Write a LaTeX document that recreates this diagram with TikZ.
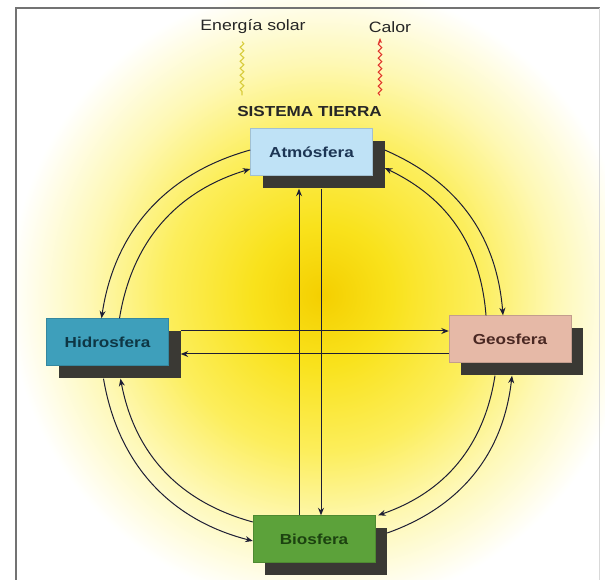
\documentclass[tikz,border=0pt]{standalone}
\usepackage{fontspec}
\setmainfont{Liberation Sans}[FakeStretch=1.18]
\usepackage{xcolor}
\usepackage{tikz}
\usetikzlibrary{positioning, arrows.meta, shadows, decorations.pathmorphing}
\definecolor{atmofill}{HTML}{BFE2F6}
\definecolor{atmotext}{HTML}{1C3554}
\definecolor{hidrofill}{HTML}{3E9FBB}
\definecolor{hidrotext}{HTML}{0E3644}
\definecolor{geofill}{HTML}{E6B9A7}
\definecolor{geotext}{HTML}{4A2823}
\definecolor{biofill}{HTML}{5CA23A}
\definecolor{biotext}{HTML}{1C4210}
\definecolor{shadowgray}{HTML}{3A3934}
\definecolor{linecol}{HTML}{1E1E34}
\definecolor{glowcore}{HTML}{F4CF00}
\definecolor{glowmid}{HTML}{F9E21C}
\definecolor{glowpale}{HTML}{FCEE5C}
\definecolor{glowfaint}{HTML}{FEF8B4}
\definecolor{solarcol}{HTML}{D8CC3C}
\definecolor{calorcol}{HTML}{E0342C}
\pgfdeclareradialshading{sunglow}{\pgfpoint{0bp}{0bp}}{color(0bp)=(glowcore); color(5.3bp)=(glowmid); color(11.9bp)=(glowpale); color(17.6bp)=(glowfaint); color(23.7bp)=(white); color(50bp)=(white)}

\begin{document}
\begin{tikzpicture}[x=1pt, y=1pt,
    box/.style={draw=#1!85!black, line width=0.4pt, fill=#1, minimum width=122pt, minimum height=47pt, inner sep=2pt,
      font=\fontsize{14.5}{16}\selectfont\bfseries,
      drop shadow={shadow xshift=12pt, shadow yshift=-13pt, fill=shadowgray, opacity=1}},
    label/.style={font=\fontsize{15}{17}\selectfont, text=black!85},
    arrow/.style={-{Stealth[length=7.5pt, width=6pt]}, linecol, line width=1pt},
    wavy/.style={decorate, decoration={snake, amplitude=1.8pt, segment length=7pt, post length=3pt}, line width=1.1pt}
  ]
    \useasboundingbox (0,0) rectangle (605,580);
    \clip (0,0) rectangle (605,580);
    \shade[shading=sunglow] (-8,-45) rectangle (652,615);
    % frame
    \draw[black!55, line width=1.6pt] (16,0) -- (16,572) -- (600,572);
    \draw[black!15, line width=1pt] (599,572) -- (599,0);

    % labels on top
    \node[label] (sol)     at (253,553) {Energía solar};
    \node[label] (calor)   at (390,553) {Calor};
    \node[font=\fontsize{14.5}{16}\selectfont\bfseries, text=black!85] (sistema) at (309.5,468) {SISTEMA TIERRA};
    \draw[wavy, solarcol] ([xshift=-11pt,yshift=-4pt]sol.south) -- ([xshift=-11pt,yshift=8pt]sol.south |- sistema.north);
    \draw[wavy, calorcol, -{Stealth[length=5pt, width=4pt]}] ([xshift=-10pt,yshift=8pt]calor.south |- sistema.north) -- ([xshift=-10pt,yshift=-2pt]calor.south);

    % the four spheres
    \node[box=atmofill, text=atmotext]   (atmo)  at (311.5,428) {Atmósfera};
    \node[box=hidrofill, text=hidrotext] (hidro) at (107.5,238) {Hidrosfera};
    \node[box=geofill, text=geotext]     (geo)   at (510,241)   {Geosfera};
    \node[box=biofill, text=biotext]     (bio)   at (314,41)    {Biosfera};

    % arcs round the circle
    \draw[arrow] ([yshift=2pt]atmo.west) to[bend right=33] ([xshift=-6pt]hidro.north);
    \draw[arrow] ([xshift=12pt]hidro.north) to[bend left=32] ([yshift=-17pt]atmo.west);
    \draw[arrow] ([xshift=12pt,yshift=2pt]atmo.east) to[bend left=31] ([xshift=-7pt]geo.north);
    \draw[arrow] ([xshift=-24pt]geo.north) to[bend right=30] ([xshift=12pt,yshift=-16pt]atmo.east);
    \draw[arrow] ([xshift=-4pt,yshift=-13pt]hidro.south) to[bend right=33] ([yshift=-2pt]bio.west);
    \draw[arrow] ([yshift=17pt]bio.west) to[bend left=32] ([xshift=13pt,yshift=-13pt]hidro.south);
    \draw[arrow] ([xshift=-15pt,yshift=-13pt]geo.south) to[bend left=31] ([xshift=3pt]bio.north east);
    \draw[arrow] ([xshift=12pt,yshift=6pt]bio.east) to[bend right=32] ([xshift=2pt,yshift=-13pt]geo.south);

    % straight links
    \draw[arrow] ([xshift=-15pt]bio.north) -- ([xshift=-12.5pt,yshift=-13pt]atmo.south);
    \draw[arrow] ([xshift=9.5pt,yshift=-13pt]atmo.south) -- ([xshift=7pt]bio.north);
    \draw[arrow] ([xshift=12pt,yshift=11pt]hidro.east) -- ([yshift=8pt]geo.west);
    \draw[arrow] ([yshift=-15pt]geo.west) -- ([xshift=12pt,yshift=-12pt]hidro.east);
  \end{tikzpicture}
\end{document}
